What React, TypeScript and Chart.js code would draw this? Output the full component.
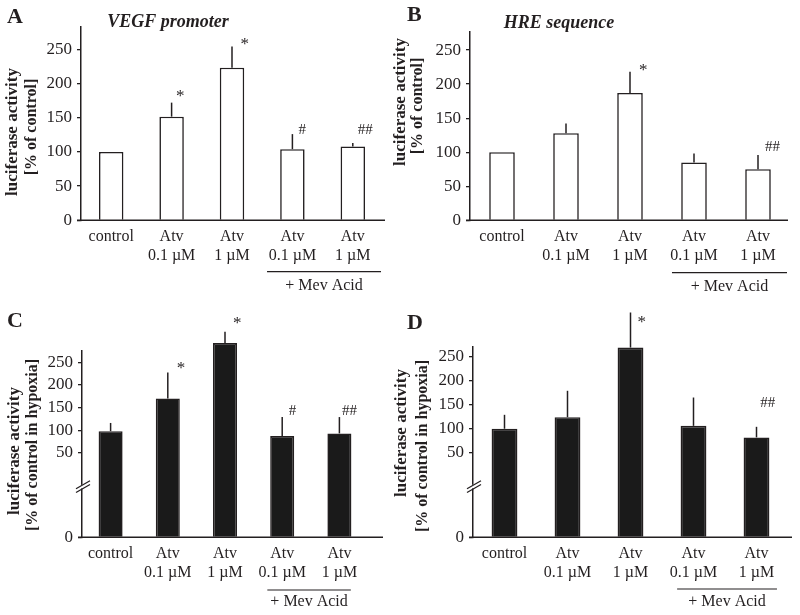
import React, { useEffect, useRef } from 'react';
import { Chart, registerables } from 'chart.js';

Chart.register(...registerables);

const FONT = "'Liberation Serif', 'Times New Roman', serif";
const INK = '#231f20';
Chart.defaults.font.family = FONT;

// ---------- data ----------
const CATEGORY_LABELS: string[][] = [
  ['control'],
  ['Atv', '0.1 µM'],
  ['Atv', '1 µM'],
  ['Atv', '0.1 µM'],
  ['Atv', '1 µM'],
];
const Y_TICKS = [0, 50, 100, 150, 200, 250];
const GROUP_LABEL = '+ Mev Acid';

const A_MEANS = [100, 151.5, 223, 104, 108];
const A_ERR_TOPS: (number | null)[] = [null, 172, 254, 126, 113];
const A_MARKS: [number, string, number][] = [[1, '*', 185], [2, '*', 261], [3, '#', 132], [4, '##', 132]];

const B_MEANS = [100, 128, 187, 85, 75];
const B_ERR_TOPS: (number | null)[] = [null, 142, 218, 98, 96];
const B_MARKS: [number, string, number][] = [[2, '*', 225], [4, '##', 108]];

const C_MEANS = [98, 170, 292, 87, 93];
const C_ERR_TOPS: (number | null)[] = [116, 227, 317, 129, 129];
const C_MARKS: [number, string, number][] = [[1, '*', 243], [2, '*', 342], [3, '#', 143], [4, '##', 143]];

const D_MEANS = [100, 124, 269, 106, 82];
const D_ERR_TOPS: (number | null)[] = [129, 179, 342, 165, 104];
const D_MARKS: [number, string, number][] = [[2, '*', 328], [4, '##', 154]];

const BREAK_MARK_VALUE = 30;

// ---------- layout ----------
type PanelCfg = {
  letter: string;
  subtitle?: string;
  means: number[];
  errTops: (number | null)[];
  marks: [number, string, number][];
  titles: { text: string; x: number; y: number; size: number }[];
  canvas: { left: number; top: number; w: number; h: number };
  area: { left: number; right: number; top: number; bottom: number };
  yMax: number;
  brk: number | null;
  lowSpan: number;
  fill: string;
  barPct: number;
  axisEnd: number;
  markDx: number[];
  mev: { f1: number; f2: number; dy: number; ty: number };
  letterPos: { x: number; y: number };
  subPos?: { x: number; y: number };
};

const PANELS: PanelCfg[] = [
  {
    letter: 'A', subtitle: 'VEGF promoter', means: A_MEANS, errTops: A_ERR_TOPS, marks: A_MARKS,
    titles: [
      { text: 'luciferase activity', x: 13, y: 132, size: 17 },
      { text: '[% of control]', x: 32, y: 127, size: 16 },
    ],
    canvas: { left: 0, top: 0, w: 400, h: 300 },
    area: { left: 81, right: 383, top: 26.7, bottom: 220.3 },
    yMax: 283, brk: null, lowSpan: 0, fill: '#ffffff', barPct: 0.405, axisEnd: 385,
    markDx: [4.5, 8.5, 6, 5],
    mev: { f1: 0.42, f2: 0.467, dy: 51.4, ty: 65.4 },
    letterPos: { x: 7, y: 17.5 }, subPos: { x: 168, y: 22 },
  },
  {
    letter: 'B', subtitle: 'HRE sequence', means: B_MEANS, errTops: B_ERR_TOPS, marks: B_MARKS,
    titles: [
      { text: 'luciferase activity', x: 401, y: 102, size: 17 },
      { text: '[% of control]', x: 418, y: 106, size: 16 },
    ],
    canvas: { left: 392, top: 0, w: 408, h: 300 },
    area: { left: 470, right: 790, top: 31.7, bottom: 220.3 },
    yMax: 277, brk: null, lowSpan: 0, fill: '#ffffff', barPct: 0.4, axisEnd: 788,
    markDx: [9, 7],
    mev: { f1: 0.344, f2: 0.453, dy: 52.4, ty: 66.4 },
    letterPos: { x: 407, y: 15.5 }, subPos: { x: 559, y: 23 },
  },
  {
    letter: 'C', means: C_MEANS, errTops: C_ERR_TOPS, marks: C_MARKS,
    titles: [
      { text: 'luciferase activity', x: 15, y: 451, size: 17 },
      { text: '[% of control in hypoxia]', x: 32.5, y: 445, size: 16 },
    ],
    canvas: { left: 0, top: 300, w: 400, h: 315 },
    area: { left: 82, right: 368, top: 350.5, bottom: 537.3 },
    yMax: 275.7, brk: 50, lowSpan: 186, fill: '#1a1a1a', barPct: 0.42, axisEnd: 383,
    markDx: [9, 8, 6.5, 2.7],
    mev: { f1: 0.26, f2: 0.2, dy: 52.7, ty: 64.4 },
    letterPos: { x: 7, y: 321.5 },
  },
  {
    letter: 'D', means: D_MEANS, errTops: D_ERR_TOPS, marks: D_MARKS,
    titles: [
      { text: 'luciferase activity', x: 402, y: 433, size: 17 },
      { text: '[% of control in hypoxia]', x: 423, y: 446, size: 16 },
    ],
    canvas: { left: 392, top: 300, w: 408, h: 315 },
    area: { left: 473, right: 788, top: 346.7, bottom: 537.3 },
    yMax: 270.8, brk: 50, lowSpan: 176, fill: '#1a1a1a', barPct: 0.41, axisEnd: 792,
    markDx: [7, 3.7],
    mev: { f1: 0.26, f2: 0.325, dy: 51.7, ty: 64.7 },
    letterPos: { x: 407, y: 323.5 },
  },
];

function makeT(c: PanelCfg) {
  return (v: number) =>
    c.brk == null ? v : v >= c.brk ? c.lowSpan + (v - c.brk) : (v * c.lowSpan) / c.brk;
}

function Panel({ cfg }: { cfg: PanelCfg }) {
  const ref = useRef<HTMLCanvasElement>(null);
  useEffect(() => {
    const c = cfg;
    const T = makeT(c);
    const ox = c.canvas.left;
    const oy = c.canvas.top;

    const overlay = {
      id: 'overlay' + c.letter,
      afterDraw(chart: any) {
        const ctx: CanvasRenderingContext2D = chart.ctx;
        const xs = chart.scales.x;
        const ys = chart.scales.y;
        const base = ys.getPixelForValue(0);
        const catW = xs.getPixelForValue(1) - xs.getPixelForValue(0);
        ctx.save();
        ctx.strokeStyle = INK;
        ctx.fillStyle = INK;
        ctx.lineCap = 'butt';

        // x baseline
        ctx.lineWidth = 1.5;
        ctx.beginPath();
        ctx.moveTo(chart.chartArea.left - 4, base);
        ctx.lineTo(c.axisEnd - ox, base);
        ctx.stroke();

        // error bars (upper whisker only)
        ctx.lineWidth = 1.5;
        c.errTops.forEach((e, i) => {
          if (e == null) return;
          const x = xs.getPixelForValue(i);
          ctx.beginPath();
          ctx.moveTo(x, ys.getPixelForValue(T(c.means[i])));
          ctx.lineTo(x, ys.getPixelForValue(T(e)));
          ctx.stroke();
        });

        // significance marks
        c.marks.forEach(([i, txt, v], k) => {
          const isStar = txt.includes('*');
          ctx.font = `${isStar ? 17 : 15}px ${FONT}`;
          ctx.textAlign = 'left';
          ctx.textBaseline = 'middle';
          ctx.fillText(txt, xs.getPixelForValue(i) + c.markDx[k], ys.getPixelForValue(T(v)) + (isStar ? 3 : 0));
        });

        // axis break
        if (c.brk != null) {
          const ax = chart.chartArea.left;
          const yb = ys.getPixelForValue(T(BREAK_MARK_VALUE));
          ctx.fillStyle = '#ffffff';
          ctx.fillRect(ax - 2, yb - 1.8, 4, 3.6);
          ctx.fillStyle = INK;
          ctx.lineWidth = 1.2;
          [-1.9, 1.9].forEach((d) => {
            ctx.beginPath();
            ctx.moveTo(ax - 6, yb + d + 4);
            ctx.lineTo(ax + 8, yb + d - 4);
            ctx.stroke();
          });
        }

        // group bracket
        const x1 = xs.getPixelForValue(3) - c.mev.f1 * catW;
        const x2 = xs.getPixelForValue(4) + c.mev.f2 * catW;
        ctx.lineWidth = 1.2;
        ctx.beginPath();
        ctx.moveTo(x1, base + c.mev.dy);
        ctx.lineTo(x2, base + c.mev.dy);
        ctx.stroke();
        ctx.font = `16px ${FONT}`;
        ctx.textAlign = 'center';
        ctx.textBaseline = 'middle';
        ctx.fillText(GROUP_LABEL, (x1 + x2) / 2, base + c.mev.ty);

        // panel letter
        ctx.font = `bold 22px ${FONT}`;
        ctx.textAlign = 'left';
        ctx.textBaseline = 'middle';
        ctx.fillText(c.letter, c.letterPos.x - ox, c.letterPos.y - oy);

        // subtitle
        if (c.subtitle && c.subPos) {
          ctx.font = `italic bold 18px ${FONT}`;
          ctx.textAlign = 'center';
          ctx.fillText(c.subtitle, c.subPos.x - ox, c.subPos.y - oy);
        }

        // y title lines
        c.titles.forEach((t) => {
          ctx.save();
          ctx.translate(t.x - ox, t.y - oy);
          ctx.rotate(-Math.PI / 2);
          ctx.font = `bold ${t.size}px ${FONT}`;
          ctx.textAlign = 'center';
          ctx.textBaseline = 'middle';
          ctx.fillText(t.text, 0, 0);
          ctx.restore();
        });

        ctx.restore();
      },
    };

    const chart = new Chart(ref.current as HTMLCanvasElement, {
      type: 'bar',
      data: {
        labels: CATEGORY_LABELS as any,
        datasets: [
          {
            data: c.means.map(T),
            backgroundColor: c.fill,
            borderColor: INK,
            borderWidth: 1.6,
            barPercentage: c.barPct,
            categoryPercentage: 1,
            clip: false as any,
          },
        ],
      },
      options: {
        responsive: false,
        animation: false,
        devicePixelRatio: 1,
        events: [],
        layout: {
          padding: {
            left: 0,
            top: c.area.top - oy,
            right: ox + c.canvas.w - c.area.right,
            bottom: 0,
          },
        },
        plugins: {
          legend: { display: false },
          tooltip: { enabled: false },
          title: { display: false },
        },
        scales: {
          x: {
            type: 'category',
            offset: true,
            grid: { display: false, drawTicks: false, tickLength: 0 },
            border: { display: false },
            ticks: {
              color: INK,
              font: { size: 16, lineHeight: 1.15 },
              padding: 7.5,
              maxRotation: 0,
              minRotation: 0,
              autoSkip: false,
            },
            afterFit: (s: any) => {
              s.height = oy + c.canvas.h - c.area.bottom;
            },
          },
          y: {
            type: 'linear',
            min: 0,
            max: T(c.yMax),
            grid: {
              display: true,
              drawOnChartArea: false,
              drawTicks: true,
              tickLength: 4,
              color: INK,
              lineWidth: 1.3,
            },
            border: { display: true, color: INK, width: 1.5 },
            ticks: {
              color: INK,
              font: { size: 17 },
              padding: 5,
              callback: (_v: any, i: number) => String(Y_TICKS[i]),
            },
            afterBuildTicks: (s: any) => {
              s.ticks = Y_TICKS.map((v) => ({ value: T(v) }));
            },
            afterFit: (s: any) => {
              s.width = c.area.left - ox;
            },
          },
        },
      } as any,
      plugins: [overlay],
    });
    return () => chart.destroy();
  }, [cfg]);

  return (
    <canvas
      ref={ref}
      width={cfg.canvas.w}
      height={cfg.canvas.h}
      style={{ position: 'absolute', left: cfg.canvas.left, top: cfg.canvas.top }}
    />
  );
}

export default function App() {
  return (
    <div
      style={{
        position: 'fixed',
        left: 0,
        top: 0,
        width: 800,
        height: 615,
        background: '#ffffff',
        overflow: 'hidden',
      }}
    >
      {PANELS.map((p) => (
        <Panel key={p.letter} cfg={p} />
      ))}
    </div>
  );
}
